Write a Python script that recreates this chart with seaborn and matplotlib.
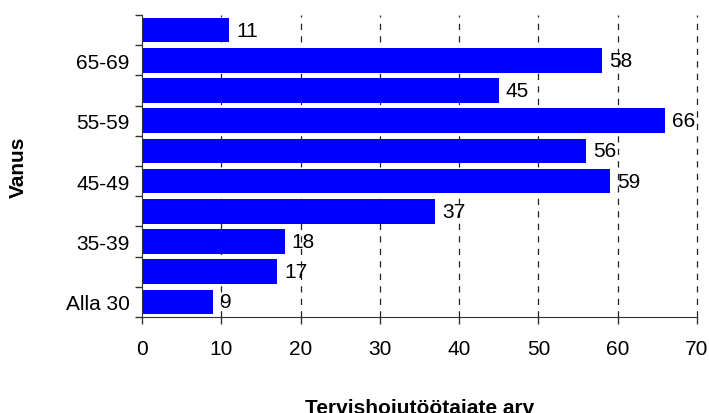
import numpy as np
import pandas as pd
import seaborn as sns
import matplotlib.pyplot as plt
from matplotlib.ticker import FixedLocator

# andmed (ülevalt alla)
vanus = ['70+', '65-69', '60-64', '55-59', '50-54', '45-49', '40-44', '35-39', '30-34', 'Alla 30']
arv = [11, 58, 45, 66, 56, 59, 37, 18, 17, 9]
naidatud = ['', '65-69', '', '55-59', '', '45-49', '', '35-39', '', 'Alla 30']

sns.set_style('white')
plt.rcParams['font.family'] = ['Liberation Sans', 'DejaVu Sans']

df = pd.DataFrame({'vanus': vanus, 'arv': arv})

fig = plt.figure(dpi=100, figsize=(7.09, 4.14))
ax = fig.add_axes([142/709, 1 - 318/414, (697-142)/709, (318-16)/414])

sns.barplot(data=df, x='arv', y='vanus', order=vanus, color='#0000FF',
            saturation=1, width=0.82, linewidth=0, ax=ax, zorder=2)

for i, v in enumerate(arv):
    ax.text(v + 0.9, i, str(v), va='center', ha='left', fontsize=15, color='black', zorder=3)

ax.set_xlim(0, 70)
ax.set_ylim(len(vanus) - 0.5, -0.5)
ax.set_xticks(np.arange(0, 71, 10))
ax.set_yticks(range(len(vanus)))
ax.set_yticklabels(naidatud)
ax.yaxis.set_minor_locator(FixedLocator(np.arange(-0.5, len(vanus), 1)))
ax.tick_params(axis='y', which='major', length=0, pad=9, labelsize=15, labelcolor='black')
ax.tick_params(axis='y', which='minor', length=5, width=1, color='#333333', left=True)
ax.tick_params(axis='x', length=5, width=1, color='#333333', bottom=True, pad=11,
               labelsize=15, labelcolor='black')

for x in range(10, 71, 10):
    ax.axvline(x, color='#222222', linewidth=0.9, linestyle=(0, (5, 5)), zorder=1, clip_on=False)

ax.spines['top'].set_visible(False)
ax.spines['right'].set_visible(False)
ax.spines['left'].set_color('#333333')
ax.spines['bottom'].set_color('#333333')

ax.set_ylabel('Vanus', fontsize=15, fontweight='bold', color='black')
ax.yaxis.set_label_coords(-0.205, 0.5)
ax.set_xlabel('Tervishoiutöötajate arv', fontsize=15, fontweight='bold', color='black')
ax.xaxis.set_label_coords(0.5, -0.268)

fig.savefig('out.png', dpi=100)
